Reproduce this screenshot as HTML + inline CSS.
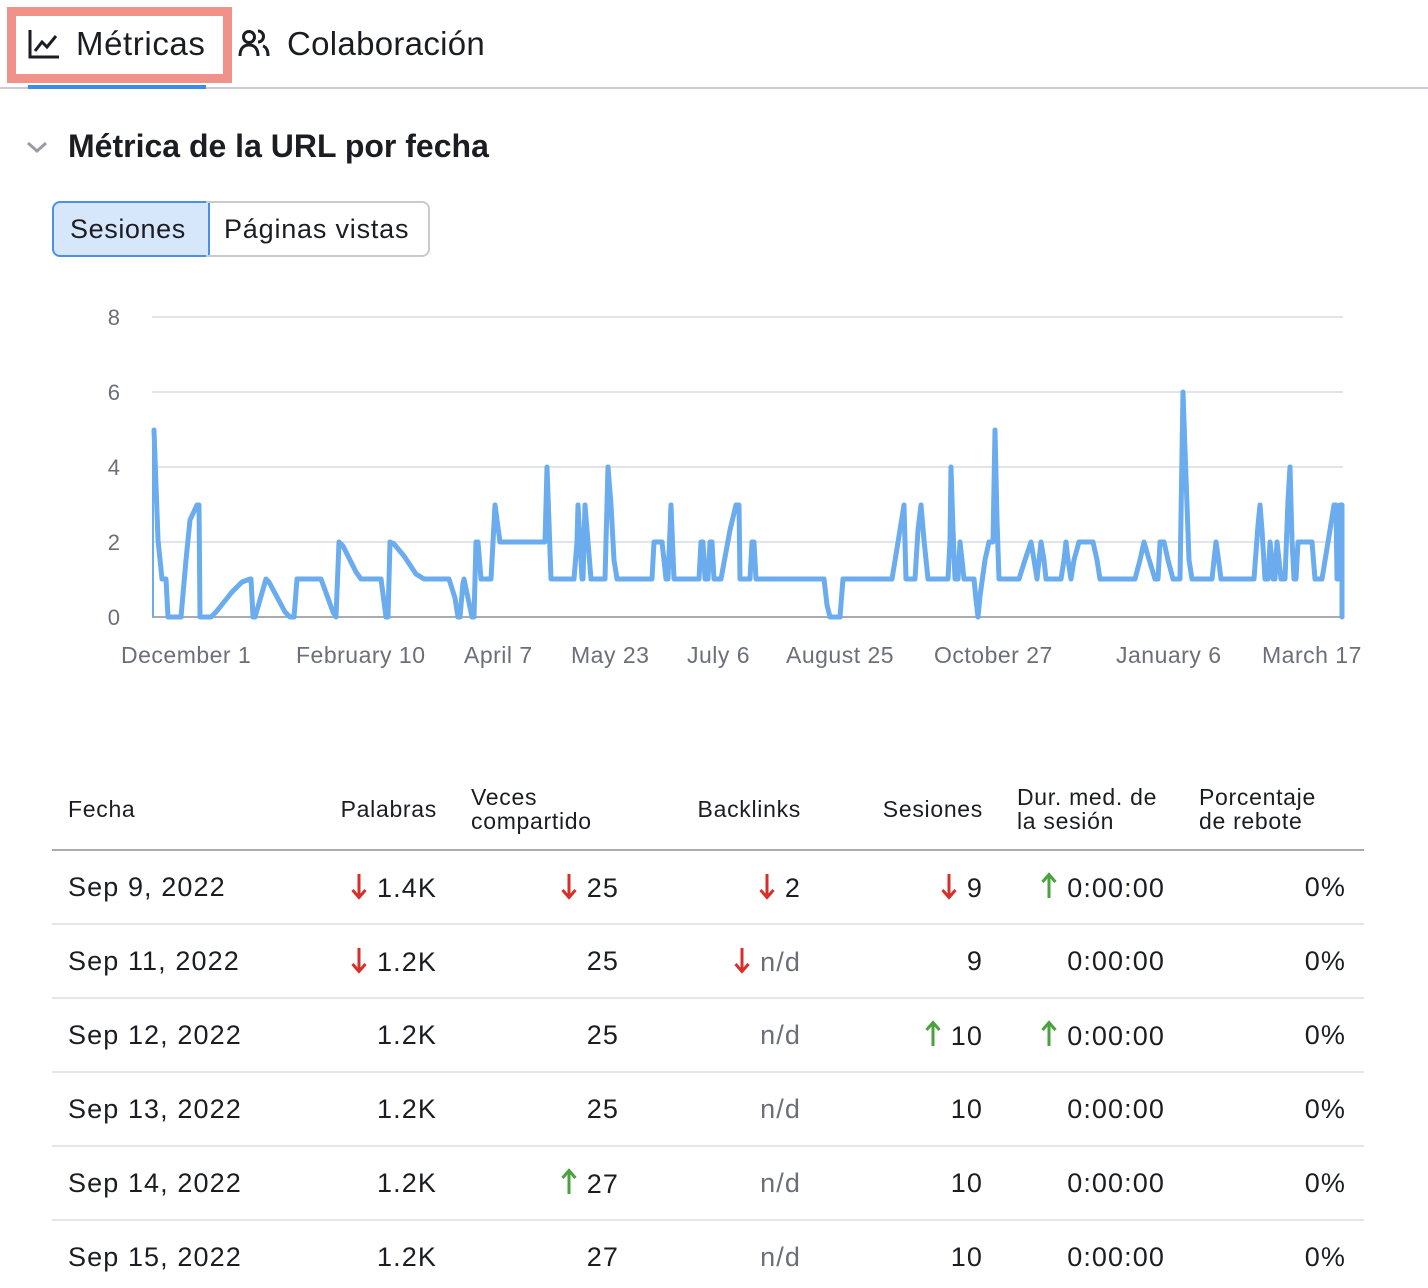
<!DOCTYPE html>
<html><head><meta charset="utf-8"><style>
body{margin:0;width:1428px;height:1288px;background:#fff;font-family:"Liberation Sans",sans-serif;color:#1c1d22;position:relative;overflow:hidden}
.a{position:absolute;white-space:nowrap}
.r{text-align:right}
.hd{font-size:23px;line-height:24px;color:#1c1d22;letter-spacing:0.7px}
.cell{font-size:27px;line-height:30px;letter-spacing:1.1px}
.ar{display:inline-block;vertical-align:-3px;margin-right:10px}
.xl{font-size:23px;color:#6c6e79;top:642px;letter-spacing:0.5px}
.yl{font-size:22px;color:#6c6e79;right:1308px}
.line{position:absolute;left:52px;width:1312px;height:2px;background:#e6e6ea}
</style></head><body>
<svg width="0" height="0" style="position:absolute"><defs>
<symbol id="dn" viewBox="0 0 16 28"><path d="M8 2V25M1.5 18L8 25.5L14.5 18" fill="none" stroke="#d7302b" stroke-width="3"/></symbol>
<symbol id="up" viewBox="0 0 16 28"><path d="M8 26V3M1.5 10L8 2.5L14.5 10" fill="none" stroke="#4aa23d" stroke-width="3"/></symbol>
</defs></svg>
<div class="a" style="left:7px;top:7px;width:207px;height:58px;border:9px solid #f0928a"></div>
<svg class="a" style="left:27px;top:28px" width="34" height="32" viewBox="0 0 34 32"><path d="M3 2V29H32" fill="none" stroke="#1c1d22" stroke-width="3"/><path d="M8 23L15 14L20 19L29 8" fill="none" stroke="#1c1d22" stroke-width="3"/></svg>
<div class="a" style="left:76px;top:25px;font-size:33px;letter-spacing:0.6px">Métricas</div>
<svg class="a" style="left:238px;top:28px" width="34" height="30" viewBox="0 0 34 30"><circle cx="11" cy="9" r="5.5" fill="none" stroke="#1c1d22" stroke-width="3"/><path d="M2 28C2 20 6 17 11 17S20 20 20 28" fill="none" stroke="#1c1d22" stroke-width="3"/><path d="M20 3A5.5 5.5 0 0 1 20 14M25 18C28 19 30 22 30 28" fill="none" stroke="#1c1d22" stroke-width="3"/></svg>
<div class="a" style="left:287px;top:25px;font-size:33px;letter-spacing:0.3px">Colaboración</div>
<div class="a" style="left:0;top:87px;width:1428px;height:2px;background:#c9cbd0"></div>
<div class="a" style="left:28px;top:85px;width:178px;height:4px;background:#3b8cf0"></div>
<svg class="a" style="left:25px;top:139px" width="24" height="16"><path d="M3 4L12 12L21 4" fill="none" stroke="#9a9ca4" stroke-width="3"/></svg>
<div class="a" style="left:68px;top:128px;font-size:32px;font-weight:bold;color:#1c1d22">Métrica de la URL por fecha</div>
<div class="a" style="left:52px;top:201px;width:154px;height:52px;background:#d7e7fb;border:2px solid #4a90e8;border-radius:8px 0 0 8px"></div>
<div class="a" style="left:206px;top:201px;width:222px;height:52px;border:2px solid #c8cad0;border-left:none;border-radius:0 8px 8px 0"></div>
<div class="a" style="left:70px;top:214px;font-size:27px;letter-spacing:0.6px">Sesiones</div>
<div class="a" style="left:224px;top:214px;font-size:27px;letter-spacing:0.8px">Páginas vistas</div>
<div class="a yl" style="top:305px">8</div>
<div class="a yl" style="top:380px">6</div>
<div class="a yl" style="top:455px">4</div>
<div class="a yl" style="top:530px">2</div>
<div class="a yl" style="top:605px">0</div>
<svg class="a" style="left:0;top:0" width="1428" height="700">
<g stroke="#e1e4e8" stroke-width="2"><line x1="152" y1="317" x2="1343" y2="317"/><line x1="152" y1="392" x2="1343" y2="392"/><line x1="152" y1="467" x2="1343" y2="467"/><line x1="152" y1="542" x2="1343" y2="542"/></g>
<line x1="152" y1="617" x2="1343" y2="617" stroke="#a9abb1" stroke-width="2"/>
<line x1="153" y1="617" x2="153" y2="430" stroke="#6aaced" stroke-width="2"/>
<polyline fill="none" stroke="#6aaced" stroke-width="5" stroke-linejoin="round" stroke-linecap="round" points="
154,430 158,540 162,579 166,579 168,617 181,617 186,560 190,520 197,505 199,505 200,617 211,617 216,612 232,592 242,582 250,579 251,579 253,617 255,617 266,579 269,582 285,612 290,617 294,617 297,579 321,579 333,612 336,617 339,542 343,546 356,572 361,579 379,579 381,579 386,617 388,617 390,542 394,544 404,556 416,574 424,579 449,579 455,598 458,617 460,617 463,583 464,579 468,598 472,617 474,617 476,542 478,542 481,579 491,579 493,542 495,505 497,520 500,542 545,542 547,467 551,579 574,579 577,542 578,505 580,542 582,579 583,579 585,505 588,542 591,579 593,579 605,579 608,467 611,505 614,560 617,579 652,579 654,542 662,542 664,560 666,579 668,579 671,505 674,579 699,579 701,542 703,542 705,579 708,579 710,542 712,542 714,579 721,579 730,530 736,505 739,505 740,579 750,579 752,542 754,542 756,579 824,579 827,605 830,617 840,617 843,579 892,579 900,530 904,505 906,579 915,579 918,530 921,505 924,540 928,579 948,579 950,540 951,467 953,530 955,579 958,579 960,542 962,560 964,579 974,579 976,600 978,617 980,596 985,560 989,542 993,542 995,430 997,520 999,579 1019,579 1025,560 1031,542 1034,560 1037,579 1041,542 1044,560 1046,579 1061,579 1064,560 1066,542 1068,560 1071,579 1074,560 1079,542 1093,542 1097,560 1100,579 1135,579 1140,560 1144,542 1148,556 1155,579 1158,579 1160,542 1164,542 1168,560 1173,579 1180,579 1183,392 1185,450 1189,560 1192,579 1212,579 1214,560 1216,542 1218,556 1221,579 1254,579 1258,525 1260,505 1262,530 1265,579 1268,579 1270,542 1272,560 1273,579 1275,579 1277,542 1279,560 1281,579 1285,579 1288,500 1290,467 1292,540 1294,579 1296,579 1298,542 1312,542 1315,579 1322,579 1330,530 1334,505 1336,505 1337,579 1339,579 1340,505 1342,505 1342,617"/>
</svg>
<div class="a xl" style="left:121px">December 1</div>
<div class="a xl" style="left:296px">February 10</div>
<div class="a xl" style="left:464px">April 7</div>
<div class="a xl" style="left:571px">May 23</div>
<div class="a xl" style="left:687px">July 6</div>
<div class="a xl" style="left:786px">August 25</div>
<div class="a xl" style="left:934px">October 27</div>
<div class="a xl" style="left:1116px">January 6</div>
<div class="a xl" style="left:1262px">March 17</div>

<div class="a hd" style="left:68px;top:797px">Fecha</div>
<div class="a hd r" style="right:991px;top:797px">Palabras</div>
<div class="a hd" style="left:471px;top:785px">Veces<br>compartido</div>
<div class="a hd r" style="right:627px;top:797px">Backlinks</div>
<div class="a hd r" style="right:445px;top:797px">Sesiones</div>
<div class="a hd" style="left:1017px;top:785px">Dur. med. de<br>la sesión</div>
<div class="a hd" style="left:1199px;top:785px">Porcentaje<br>de rebote</div>
<div class="a" style="left:52px;top:849px;width:1312px;height:2px;background:#a9abb1"></div>
<div class="line" style="top:923px"></div>
<div class="line" style="top:997px"></div>
<div class="line" style="top:1071px"></div>
<div class="line" style="top:1145px"></div>
<div class="line" style="top:1219px"></div>

<div class="a cell" style="left:68px;top:872px">Sep 9, 2022</div>
<div class="a cell r" style="right:991px;top:872px"><svg class="ar" width="16" height="28"><use href="#dn"/></svg>1.4K</div>
<div class="a cell r" style="right:809px;top:872px"><svg class="ar" width="16" height="28"><use href="#dn"/></svg>25</div>
<div class="a cell r" style="right:627px;top:872px"><svg class="ar" width="16" height="28"><use href="#dn"/></svg>2</div>
<div class="a cell r" style="right:445px;top:872px"><svg class="ar" width="16" height="28"><use href="#dn"/></svg>9</div>
<div class="a cell r" style="right:263px;top:872px"><svg class="ar" width="16" height="28"><use href="#up"/></svg>0:00:00</div>
<div class="a cell r" style="right:82px;top:872px">0%</div>

<div class="a cell" style="left:68px;top:946px">Sep 11, 2022</div>
<div class="a cell r" style="right:991px;top:946px"><svg class="ar" width="16" height="28"><use href="#dn"/></svg>1.2K</div>
<div class="a cell r" style="right:809px;top:946px">25</div>
<div class="a cell r" style="right:627px;top:946px;color:#6c6e79"><svg class="ar" width="16" height="28"><use href="#dn"/></svg>n/d</div>
<div class="a cell r" style="right:445px;top:946px">9</div>
<div class="a cell r" style="right:263px;top:946px">0:00:00</div>
<div class="a cell r" style="right:82px;top:946px">0%</div>

<div class="a cell" style="left:68px;top:1020px">Sep 12, 2022</div>
<div class="a cell r" style="right:991px;top:1020px">1.2K</div>
<div class="a cell r" style="right:809px;top:1020px">25</div>
<div class="a cell r" style="right:627px;top:1020px;color:#6c6e79">n/d</div>
<div class="a cell r" style="right:445px;top:1020px"><svg class="ar" width="16" height="28"><use href="#up"/></svg>10</div>
<div class="a cell r" style="right:263px;top:1020px"><svg class="ar" width="16" height="28"><use href="#up"/></svg>0:00:00</div>
<div class="a cell r" style="right:82px;top:1020px">0%</div>

<div class="a cell" style="left:68px;top:1094px">Sep 13, 2022</div>
<div class="a cell r" style="right:991px;top:1094px">1.2K</div>
<div class="a cell r" style="right:809px;top:1094px">25</div>
<div class="a cell r" style="right:627px;top:1094px;color:#6c6e79">n/d</div>
<div class="a cell r" style="right:445px;top:1094px">10</div>
<div class="a cell r" style="right:263px;top:1094px">0:00:00</div>
<div class="a cell r" style="right:82px;top:1094px">0%</div>

<div class="a cell" style="left:68px;top:1168px">Sep 14, 2022</div>
<div class="a cell r" style="right:991px;top:1168px">1.2K</div>
<div class="a cell r" style="right:809px;top:1168px"><svg class="ar" width="16" height="28"><use href="#up"/></svg>27</div>
<div class="a cell r" style="right:627px;top:1168px;color:#6c6e79">n/d</div>
<div class="a cell r" style="right:445px;top:1168px">10</div>
<div class="a cell r" style="right:263px;top:1168px">0:00:00</div>
<div class="a cell r" style="right:82px;top:1168px">0%</div>

<div class="a cell" style="left:68px;top:1242px">Sep 15, 2022</div>
<div class="a cell r" style="right:991px;top:1242px">1.2K</div>
<div class="a cell r" style="right:809px;top:1242px">27</div>
<div class="a cell r" style="right:627px;top:1242px;color:#6c6e79">n/d</div>
<div class="a cell r" style="right:445px;top:1242px">10</div>
<div class="a cell r" style="right:263px;top:1242px">0:00:00</div>
<div class="a cell r" style="right:82px;top:1242px">0%</div>
</body></html>
